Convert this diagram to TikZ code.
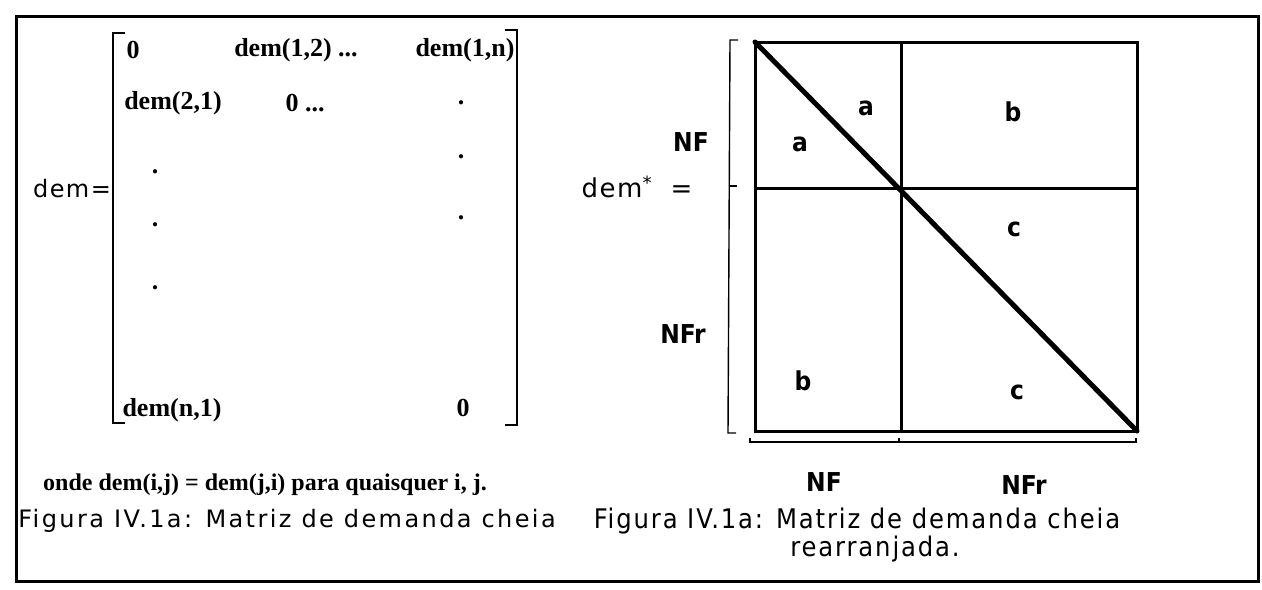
\documentclass[tikz,border=0pt]{standalone}
\usepackage{fontspec}
\setmainfont{Liberation Serif}
\newfontfamily\sansfont[LetterSpace=6]{DejaVu Sans}
\newfontfamily\capfont[LetterSpace=10]{DejaVu Sans}
\newfontfamily\condfont{DejaVu Sans Condensed}
\newfontfamily\condcapfont[LetterSpace=7]{DejaVu Sans Condensed}

\tikzset{
  entry/.style={font=\bfseries\fontsize{13}{13}\selectfont, inner sep=0pt},
  note/.style={font=\bfseries\fontsize{12}{12}\selectfont, inner sep=0pt},
  sans/.style={font=\sansfont\fontsize{12}{12}\selectfont, inner sep=0pt},
  capl/.style={font=\capfont\fontsize{12}{12}\selectfont, inner sep=0pt},
  lbl/.style={font=\condfont\bfseries\fontsize{13}{13}\selectfont, inner sep=0pt},
  capr/.style={font=\condcapfont\fontsize{13.5}{13.5}\selectfont, inner sep=0pt},
  frame/.style={line width=1.5pt},
  box/.style={line width=1.5pt},
  diag/.style={line width=2.5pt, line cap=round},
  bracket/.style={line width=0.7pt}
}

\begin{document}
\begin{tikzpicture}[x=0.5pt,y=-0.5pt]
  \useasboundingbox (0,0) rectangle (1262,589);

  % outer frame
  \draw [frame] (16,16) rectangle (1258,581);

  % full matrix
  \node[sans] (dem) at (72,189) {dem=};
  \coordinate (lbt) at (113,33);
  \coordinate (lbb) at (113,423);
  \coordinate (rbt) at (517,30);
  \coordinate (rbb) at (517,425);
  \draw [bracket] ([xshift=6pt]lbt) -- (lbt) -- (lbb) -- ([xshift=6pt]lbb);
  \draw [bracket] ([xshift=-6pt]rbt) -- (rbt) -- (rbb) -- ([xshift=-6pt]rbb);

  \node[entry] (m11) at (133,50)  {0};
  \node[entry] (m12) at (296,50)  {dem(1,2) ...};
  \node[entry] (m1n) at (465,50)  {dem(1,n)};
  \node[entry] (m21) at (173,103) {dem(2,1)};
  \node[entry] (m22) at (305,103) {0 ...};
  \foreach \y in {103,157,218}
    \node[entry] (rd\y) at (461,\y) {.};
  \foreach \y in {172,225,288}
    \node[entry] (ld\y) at (155,\y) {.};
  \node[entry] (mn1) at (172,410) {dem(n,1)};
  \node[entry] (mnn) at (463,408) {0};

  \node[note] (onde) at (265,485) {onde dem(i,j) = dem(j,i) para quaisquer i, j.};
  \node[capl] (capa) at (287,521) {Figura IV.1a: Matriz de demanda cheia};

  % rearranged matrix
  \node[sans, font=\sansfont\fontsize{13}{13}\selectfont] (dems) at (637,187) {dem\textsuperscript{*}\hspace{9pt}=};
  \node[lbl] (nfl) at (691,142) {NF};
  \node[lbl] (nfrl) at (683,334) {NFr};

  \coordinate (tl) at (755,42);
  \coordinate (br) at (1137,431);
  \coordinate (vt) at (901,42);
  \coordinate (vb) at (901,431);
  \coordinate (hl) at (755,188);
  \coordinate (hr) at (1137,188);
  \draw [box] (tl) rectangle (br);
  \draw [box] (vt) -- (vb)
              (hl) -- (hr);
  \draw [diag] (tl) -- (br);

  \node[lbl] (a1) at (866,108) {a};
  \node[lbl] (b1) at (1013,112) {b};
  \node[lbl] (a2) at (800,144) {a};
  \node[lbl] (c1) at (1014,229) {c};
  \node[lbl] (b2) at (803,381) {b};
  \node[lbl] (c2) at (1017,392) {c};

  % side and bottom brackets
  \coordinate (sbt) at (730,40);
  \coordinate (sbm) at (729,186);
  \coordinate (sbb) at (728,433);
  \draw [bracket] ([xshift=4pt]sbt) -- (sbt) -- (sbb) -- ([xshift=4pt]sbb);
  \draw [bracket] (sbm) -- ([xshift=4pt]sbm);

  \coordinate (bbl) at (750,442);
  \coordinate (bbm) at (899,442);
  \coordinate (bbr) at (1136,442);
  \draw [bracket] ([yshift=2pt]bbl) -- (bbl) -- (bbr) -- ([yshift=2pt]bbr);
  \draw [bracket] (bbm) -- ([yshift=2pt]bbm);

  \node[lbl] (nfb) at (824,482) {NF};
  \node[lbl] (nfrb) at (1024,485) {NFr};

  \node[capr] (capb) at (857,521) {Figura IV.1a: Matriz de demanda cheia};
  \node[capr] (capc) at (875,549) {rearranjada.};
\end{tikzpicture}
\end{document}
